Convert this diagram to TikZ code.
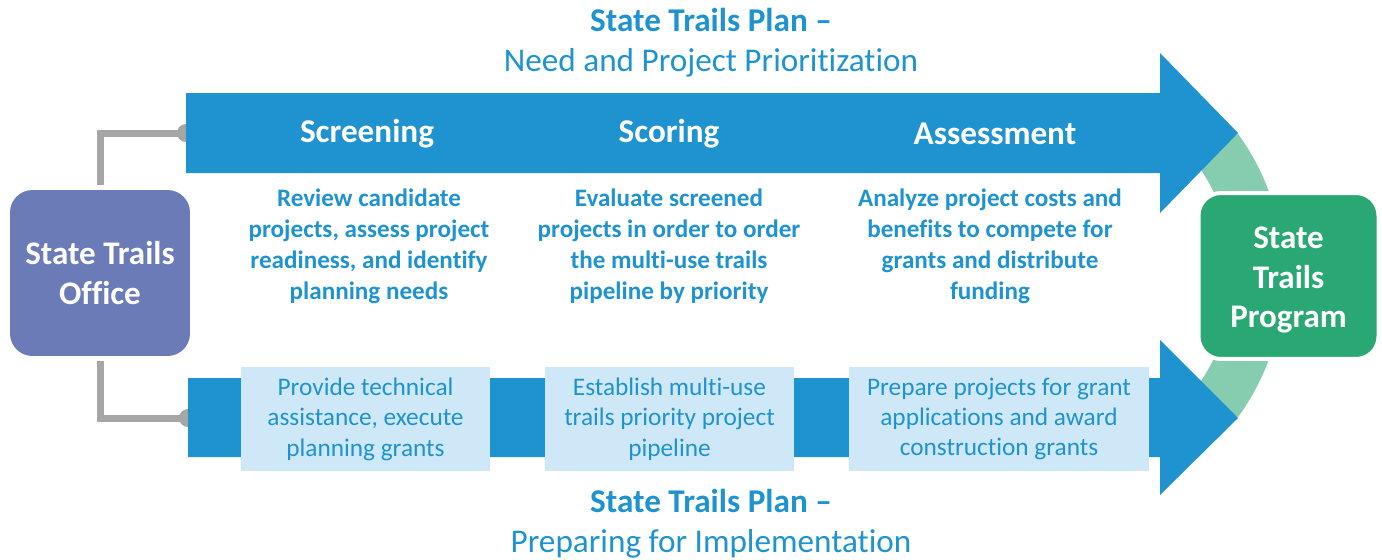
\documentclass[tikz,border=0pt]{standalone}
\usepackage{fontspec}
\setmainfont{Carlito}[Ligatures=NoCommon]
\usetikzlibrary{positioning}
\definecolor{flowblue}{RGB}{30,147,208}
\definecolor{paleblue}{RGB}{207,232,248}
\definecolor{officeblue}{RGB}{106,123,184}
\definecolor{progreen}{RGB}{41,168,116}
\definecolor{arcgreen}{RGB}{134,204,174}
\definecolor{linkgray}{RGB}{166,166,166}
\newcommand{\stepname}[3]{\node(#1)[head] at (#2,134) {#3}}
\newcommand{\stepdesc}[3]{\node(#1)[desc] at (#2,246) {#3}}
\newcommand{\stepbox}[4]{\node(#1)[pbox, minimum width=#3] at (#2,419) {#4}}

\begin{document}
\begin{tikzpicture}[
        x=0.02cm, y=-0.02cm,
        every node/.style={align=center, inner sep=0pt},
        title/.style={text=flowblue, font=\fontsize{18.9}{22.8}\selectfont},
        head/.style={text=white, font=\bfseries\fontsize{18.9}{22}\selectfont},
        desc/.style={text=flowblue, font=\bfseries\fontsize{14.3}{17.6}\selectfont},
        pbox/.style={rectangle, fill=paleblue, text=flowblue, minimum height=2.08cm,
                     font=\fontsize{14.4}{17.3}\selectfont},
        unit/.style={rectangle, rounded corners=4.5mm, minimum width=3.6cm,
                     minimum height=3.32cm, text=white,
                     font=\bfseries\fontsize{18.8}{22.3}\selectfont},
        link/.style={draw=linkgray, line width=1.4mm}
      ]
      \useasboundingbox (0,0) rectangle (1382,559);

      % offices at both ends
      \node(office)[unit, fill=officeblue] at (100,273) {State Trails\\Office};
      \coordinate (topdot) at (186,133);
      \coordinate (botdot) at (188,418);

      % green ring behind the program box
      \coordinate (ring) at (1043,275.5);
      \fill[arcgreen] (ring) ++(-36:241) arc[start angle=-36, end angle=36, radius=241]
        -- ++(216:51) arc[start angle=36, end angle=-36, radius=190] -- cycle;

      % connectors
      \draw[link, shorten <=1mm] (office.north) |- (topdot);
      \draw[link, shorten <=1mm] (office.south) |- (botdot);
      \fill[linkgray] (topdot) circle[radius=9];
      \fill[linkgray] (botdot) circle[radius=9];

      % the two big arrows
      \fill[flowblue] (186,93) -- (1160,93) -- (1160,53) -- (1238,133)
        -- (1160,213) -- (1160,173) -- (186,173) -- cycle;
      \fill[flowblue] (188,378) -- (1160,378) -- (1160,340) -- (1238,418)
        -- (1160,495) -- (1160,457) -- (188,457) -- cycle;

      \node(program)[unit, fill=progreen, draw=white, line width=0.8mm]
        at (1288.5,276) {};
      \node(progtext)[unit] at (1288.5,280) {State\\Trails\\Program};

      % titles
      \node(toptitle)[title] at (711,43) {\textbf{State Trails Plan –}\\Need and Project Prioritization};
      \node(bottitle)[title] at (711,524) {\textbf{State Trails Plan –}\\Preparing for Implementation};

      % steps
      \stepname{screen}{367}{Screening};
      \stepname{score}{669}{Scoring};
      \stepname{assess}{995}{Assessment};

      \stepdesc{screend}{369}{Review candidate\\projects, assess project\\readiness, and identify\\planning needs};
      \stepdesc{scored}{669}{Evaluate screened\\projects in order to order\\the multi-use trails\\pipeline by priority};
      \stepdesc{assessd}{990}{Analyze project costs and\\benefits to compete for\\grants and distribute\\funding};

      \stepbox{plan}{365.5}{4.98cm}{Provide technical\\assistance, execute\\planning grants};
      \stepbox{pipe}{669.5}{4.98cm}{Establish multi-use\\trails priority project\\pipeline};
      \stepbox{grant}{999}{6cm}{Prepare projects for grant\\applications and award\\construction grants};
    \end{tikzpicture}
\end{document}
